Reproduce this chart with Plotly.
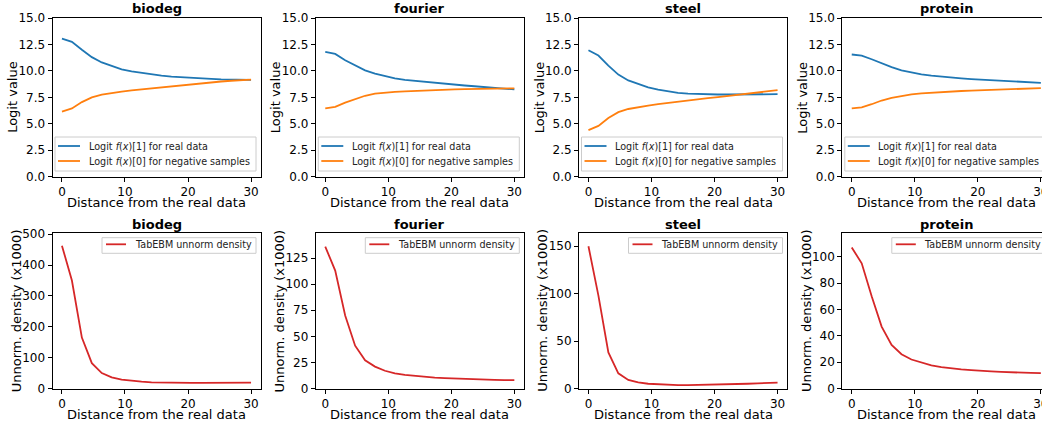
import plotly.graph_objects as go

W, H = 1042, 425
FONT = "DejaVu Sans"

# ---------------- data ----------------
datasets = ["biodeg", "fourier", "steel", "protein"]
distance = [0.0, 1.58, 3.16, 4.74, 6.32, 7.89, 9.47, 11.05, 12.63, 14.21,
            15.79, 17.37, 18.95, 20.53, 22.11, 23.68, 25.26, 26.84, 28.42, 30.0]

biodeg_logit_real = [13.05, 12.75, 12.0, 11.3, 10.8, 10.45, 10.15, 9.95, 9.8, 9.65,
                     9.55, 9.45, 9.38, 9.32, 9.28, 9.24, 9.2, 9.18, 9.17, 9.15]
biodeg_logit_neg = [6.15, 6.45, 7.05, 7.5, 7.75, 7.92, 8.05, 8.15, 8.25, 8.35,
                    8.45, 8.55, 8.65, 8.75, 8.85, 8.92, 9.0, 9.07, 9.12, 9.17]
fourier_logit_real = [11.8, 11.6, 11.0, 10.5, 10.05, 9.75, 9.5, 9.3, 9.15, 9.05,
                      8.95, 8.87, 8.8, 8.7, 8.62, 8.55, 8.48, 8.4, 8.33, 8.25]
fourier_logit_neg = [6.45, 6.6, 7.0, 7.35, 7.65, 7.85, 7.95, 8.02, 8.07, 8.12,
                     8.17, 8.2, 8.24, 8.26, 8.28, 8.3, 8.32, 8.33, 8.34, 8.35]
steel_logit_real = [11.95, 11.45, 10.5, 9.65, 9.1, 8.75, 8.45, 8.22, 8.05, 7.93,
                    7.85, 7.8, 7.78, 7.77, 7.77, 7.77, 7.78, 7.78, 7.79, 7.8]
steel_logit_neg = [4.4, 4.8, 5.55, 6.1, 6.4, 6.58, 6.72, 6.85, 6.95, 7.07,
                   7.18, 7.3, 7.42, 7.53, 7.65, 7.77, 7.88, 7.98, 8.08, 8.18]
protein_logit_real = [11.55, 11.45, 11.1, 10.7, 10.35, 10.05, 9.85, 9.68, 9.55, 9.45,
                      9.38, 9.3, 9.23, 9.17, 9.12, 9.05, 9.0, 8.95, 8.9, 8.87]
protein_logit_neg = [6.45, 6.55, 6.85, 7.2, 7.45, 7.65, 7.78, 7.88, 7.95, 8.0,
                     8.05, 8.1, 8.13, 8.17, 8.2, 8.25, 8.28, 8.32, 8.35, 8.38]

biodeg_density = [463, 350, 165, 82, 50, 36, 29, 25, 22, 20,
                  19, 18.5, 18, 18, 18, 18, 18.5, 18.5, 19, 19]
fourier_density = [136, 113, 70, 41, 27, 21, 17, 14.5, 13, 12,
                   11, 10.5, 10, 9.8, 9.4, 9, 8.6, 8.3, 8, 8]
steel_density = [150, 98, 38, 16, 9, 6.5, 5, 4.3, 3.8, 3.6,
                 3.6, 3.7, 3.8, 4, 4.3, 4.6, 5, 5.4, 5.8, 6.2]
protein_density = [107, 95, 70, 47, 33, 26, 22, 19.5, 17.5, 16.3,
                   15.3, 14.5, 14, 13.3, 13, 12.6, 12.2, 12, 11.8, 11.7]

logit_ticks = [0, 2.5, 5, 7.5, 10, 12.5, 15]
x_ticks = [0, 10, 20, 30]
density_tick_step = [100, 25, 50, 20]
density_ymax = [504, 149, 164, 118]

legend_real = "Logit <i>f</i>(<i>x</i>)[1] for real data"
legend_neg = "Logit <i>f</i>(<i>x</i>)[0] for negative samples"
legend_density = "TabEBM unnorm density"

real_series = [biodeg_logit_real, fourier_logit_real, steel_logit_real, protein_logit_real]
neg_series = [biodeg_logit_neg, fourier_logit_neg, steel_logit_neg, protein_logit_neg]
density_series = [biodeg_density, fourier_density, steel_density, protein_density]

# ---------------- layout geometry (pixels) ----------------
lefts = [52.5, 315.8, 579.0, 842.3]
PW = 208.0
rows = [(18.0, 176.7), (233.0, 388.5)]  # (top, bottom)
XMIN, XMAX = -1.5, 31.5
px_per_unit = PW / (XMAX - XMIN)

BLUE, ORANGE, RED = "#1f77b4", "#ff7f0e", "#d62728"


def px(x):
    return x / W


def py(y):
    return 1 - y / H


fig = go.Figure()
layout = dict(
    width=W, height=H, margin=dict(l=0, r=0, t=0, b=0, pad=0, autoexpand=False),
    paper_bgcolor="white", plot_bgcolor="white", showlegend=False,
    font=dict(family=FONT, color="black", size=12),
)
annotations = []
shapes = []

for r, (top, bot) in enumerate(rows):
    for c in range(4):
        idx = r * 4 + c + 1
        L = lefts[c]
        R = min(L + PW, W)
        xr_max = XMIN + (R - L) / px_per_unit
        xa = "xaxis" if idx == 1 else f"xaxis{idx}"
        ya = "yaxis" if idx == 1 else f"yaxis{idx}"
        xref = "x" if idx == 1 else f"x{idx}"
        yref = "y" if idx == 1 else f"y{idx}"
        common = dict(showline=True, linecolor="black", linewidth=1, showgrid=False,
                      zeroline=False, ticks="outside", ticklen=4, tickwidth=1,
                      tickcolor="black", automargin=False, ticklabeloverflow="allow",
                      tickfont=dict(size=12, family=FONT, color="black"))
        layout[xa] = dict(domain=[px(L), px(R)], range=[XMIN, xr_max], anchor=yref,
                          tickvals=x_ticks, mirror=True, **common)
        if r == 0:
            layout[ya] = dict(domain=[py(bot), py(top)], range=[0, 15], anchor=xref,
                              tickvals=logit_ticks, tickformat=".1f",
                              mirror=(c != 3), **common)
            fig.add_trace(go.Scatter(x=distance, y=real_series[c], mode="lines",
                                     line=dict(color=BLUE, width=1.8),
                                     xaxis=xref, yaxis=yref, name=legend_real))
            fig.add_trace(go.Scatter(x=distance, y=neg_series[c], mode="lines",
                                     line=dict(color=ORANGE, width=1.8),
                                     xaxis=xref, yaxis=yref, name=legend_neg))
            ytitle = "Logit value"
            yoff = 40
        else:
            step = density_tick_step[c]
            tv = list(range(0, int(density_ymax[c]) + 1, step))
            layout[ya] = dict(domain=[py(bot), py(top)], range=[0, density_ymax[c]],
                              anchor=xref, tickvals=tv, mirror=(c != 3), **common)
            fig.add_trace(go.Scatter(x=distance, y=density_series[c], mode="lines",
                                     line=dict(color=RED, width=1.8),
                                     xaxis=xref, yaxis=yref, name=legend_density))
            ytitle = "Unnorm. density (x1000)"
            yoff = 36

        # subplot title
        annotations.append(dict(text=f"<b>{datasets[c]}</b>", x=px(L + PW / 2), y=py(top - 9),
                                xref="paper", yref="paper", showarrow=False,
                                xanchor="center", yanchor="middle",
                                font=dict(size=13, family=FONT, color="black")))
        # x title
        annotations.append(dict(text="Distance from the real data", x=px(L + PW / 2),
                                y=py(bot + 26), xref="paper", yref="paper", showarrow=False,
                                xanchor="center", yanchor="middle",
                                font=dict(size=13, family=FONT, color="black")))
        # y title
        annotations.append(dict(text=ytitle, x=px(L - yoff), y=py((top + bot) / 2),
                                xref="paper", yref="paper", showarrow=False, textangle=-90,
                                xanchor="center", yanchor="middle",
                                font=dict(size=13, family=FONT, color="black")))

        # legend boxes
        if r == 0:
            bx0, bx1, by0, by1 = L + 2.5, L + 203.5, bot - 39.7, bot - 5.7
            shapes.append(dict(type="rect", xref="paper", yref="paper",
                               x0=px(bx0), x1=px(bx1), y0=py(by1), y1=py(by0),
                               line=dict(color="#cccccc", width=1),
                               fillcolor="rgba(255,255,255,0.8)", layer="above"))
            for ry, col, txt in [(bot - 30.7, BLUE, legend_real), (bot - 15.7, ORANGE, legend_neg)]:
                shapes.append(dict(type="line", xref="paper", yref="paper",
                                   x0=px(L + 5.5), x1=px(L + 27.5), y0=py(ry), y1=py(ry),
                                   line=dict(color=col, width=1.8), layer="above"))
                annotations.append(dict(text=txt, x=px(L + 34), y=py(ry), xref="paper",
                                        yref="paper", showarrow=False, xanchor="left",
                                        yanchor="middle",
                                        font=dict(size=9.6, family=FONT, color="#222222")))
        else:
            bx0, bx1, by0, by1 = L + 49.5, L + 203.5, top + 4.7, top + 20.3
            shapes.append(dict(type="rect", xref="paper", yref="paper",
                               x0=px(bx0), x1=px(bx1), y0=py(by1), y1=py(by0),
                               line=dict(color="#cccccc", width=1),
                               fillcolor="rgba(255,255,255,0.8)", layer="above"))
            ry = top + 11.3
            shapes.append(dict(type="line", xref="paper", yref="paper",
                               x0=px(bx0 + 4), x1=px(bx0 + 24), y0=py(ry), y1=py(ry),
                               line=dict(color=RED, width=1.8), layer="above"))
            annotations.append(dict(text=legend_density, x=px(bx0 + 30.5), y=py(ry),
                                    xref="paper", yref="paper", showarrow=False,
                                    xanchor="left", yanchor="middle",
                                    font=dict(size=9.6, family=FONT, color="#222222")))

layout["annotations"] = annotations
layout["shapes"] = shapes
fig.update_layout(**layout)
fig.write_html(
    "out.html",
    config={"displayModeBar": False},
    post_script="document.body.style.margin='0';document.body.style.padding='0';"
                "document.body.style.overflow='hidden';",
)
